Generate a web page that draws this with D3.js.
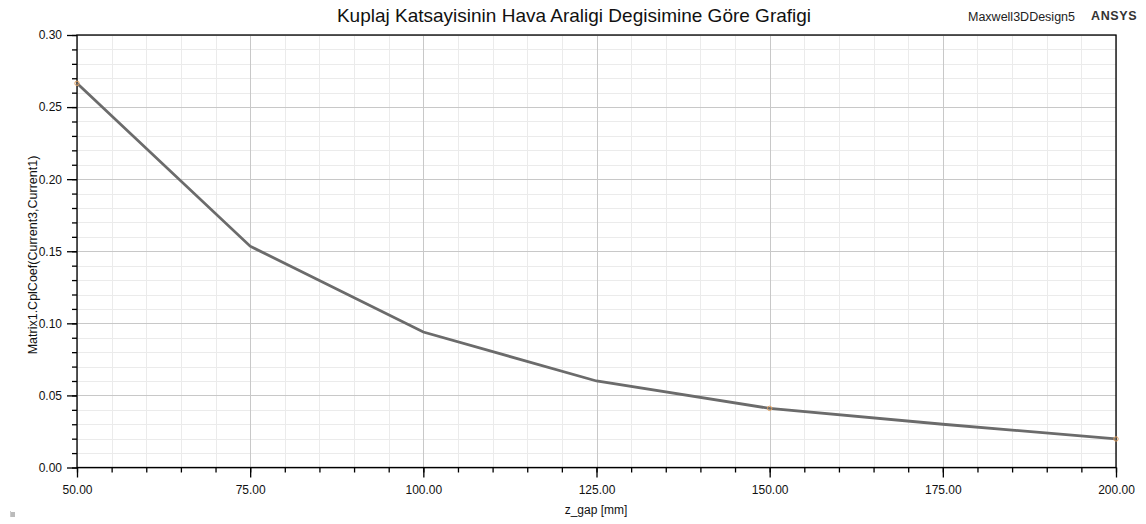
<!DOCTYPE html>
<html><head><meta charset="utf-8">
<script src="https://cdn.jsdelivr.net/npm/d3@7"></script>
<style>body{margin:0;background:#fff;font-family:"Liberation Sans",Arial,sans-serif;}</style>
</head><body><svg id="c" width="1146" height="524"></svg>
<script>
const zGap = [50, 75, 100, 125, 150, 175, 200];
const cplCoef = [0.2665, 0.1535, 0.0940, 0.0600, 0.0410, 0.0300, 0.0198];
const xMajorTicks = [50, 75, 100, 125, 150, 175, 200];
const yMajorTicks = [0, 0.05, 0.10, 0.15, 0.20, 0.25, 0.30];
const markerIdx = [0, 4, 6];

const svg = d3.select('#c');
const L = 77, R = 1116, T = 35, B = 467.5;
const x = d3.scaleLinear().domain([50, 200]).range([L, R]);
const y = d3.scaleLinear().domain([0, 0.30]).range([B, T]);

const xMinor = d3.range(50, 200.01, 5);
const yMinor = d3.range(0, 0.3001, 0.01);

const g = svg.append('g');
g.selectAll('.vm').data(xMinor).enter().append('line')
  .attr('x1', d => Math.round(x(d)) + 0.5).attr('x2', d => Math.round(x(d)) + 0.5)
  .attr('y1', T).attr('y2', B).attr('stroke', '#ebebeb');
g.selectAll('.hm').data(yMinor).enter().append('line')
  .attr('y1', d => Math.round(y(d)) + 0.5).attr('y2', d => Math.round(y(d)) + 0.5)
  .attr('x1', L).attr('x2', R).attr('stroke', '#ebebeb');
g.selectAll('.vM').data(xMajorTicks).enter().append('line')
  .attr('x1', d => Math.round(x(d)) + 0.5).attr('x2', d => Math.round(x(d)) + 0.5)
  .attr('y1', T).attr('y2', B).attr('stroke', '#c8c8c8');
g.selectAll('.hM').data(yMajorTicks).enter().append('line')
  .attr('y1', d => Math.round(y(d)) + 0.5).attr('y2', d => Math.round(y(d)) + 0.5)
  .attr('x1', L).attr('x2', R).attr('stroke', '#c8c8c8');

svg.append('rect').attr('x', L).attr('y', T).attr('width', R - L).attr('height', B - T)
  .attr('fill', 'none').attr('stroke', '#000').attr('stroke-width', 1.3);

const xAxisMinor = d3.axisBottom(x).tickValues(xMinor).tickSize(5).tickFormat('');
const xAxis = d3.axisBottom(x).tickValues(xMajorTicks).tickSize(10).tickFormat(d3.format('.2f'));
const yAxisMinor = d3.axisLeft(y).tickValues(yMinor).tickSize(5).tickFormat('');
const yAxis = d3.axisLeft(y).tickValues(yMajorTicks).tickSize(10).tickFormat(d3.format('.2f'));

function style(sel) {
  sel.select('.domain').remove();
  sel.selectAll('line').attr('stroke', '#000').attr('stroke-width', 1.3);
  sel.selectAll('text').attr('fill', '#111').style('font-size', '12px')
    .style('font-family', '"Liberation Sans",Arial,sans-serif');
}
svg.append('g').attr('transform', `translate(0,${B})`).call(xAxisMinor).call(style);
svg.append('g').attr('transform', `translate(0,${B})`).call(xAxis).call(style)
  .selectAll('text').attr('y', 0).attr('dy', null).attr('transform', 'translate(0,26)');
svg.append('g').attr('transform', `translate(${L},0)`).call(yAxisMinor).call(style);
svg.append('g').attr('transform', `translate(${L},0)`).call(yAxis).call(style)
  .selectAll('text').attr('x', -15);

const pts = zGap.map((d, i) => [d, cplCoef[i]]);
svg.append('path').datum(pts)
  .attr('d', d3.line().x(d => x(d[0])).y(d => y(d[1])))
  .attr('fill', 'none').attr('stroke', '#6b6b6b').attr('stroke-width', 2.8);
svg.selectAll('.mk').data(markerIdx).enter().append('circle')
  .attr('cx', i => x(zGap[i])).attr('cy', i => y(cplCoef[i])).attr('r', 2.2)
  .attr('fill', 'none').attr('stroke', '#e0a060').attr('stroke-width', 1);

svg.append('text').attr('x', 574).attr('y', 22).attr('text-anchor', 'middle')
  .style('font-size', '19px').attr('fill', '#111').text('Kuplaj Katsayisinin Hava Araligi Degisimine Göre Grafigi');
svg.append('text').attr('x', 1075).attr('y', 21).attr('text-anchor', 'end')
  .style('font-size', '12.5px').attr('fill', '#222').text('Maxwell3DDesign5');
svg.append('text').attr('x', 1091).attr('y', 20)
  .style('font-size', '12.5px').style('font-weight', 'bold').style('letter-spacing', '0.6px')
  .attr('fill', '#333').text('ANSYS');
svg.append('text').attr('x', 596).attr('y', 514).attr('text-anchor', 'middle')
  .style('font-size', '12px').attr('fill', '#111').text('z_gap [mm]');
svg.append('text').attr('transform', 'translate(37,255) rotate(-90)').attr('text-anchor', 'middle')
  .style('font-size', '12.5px').attr('fill', '#111').text('Matrix1.CplCoef(Current3,Current1)');
svg.append('rect').attr('x', 10).attr('y', 512).attr('width', 5).attr('height', 5).attr('fill', '#bbb');
svg.append('rect').attr('x', 10).attr('y', 511).attr('width', 1).attr('height', 6).attr('fill', '#ccc');
</script></body></html>
